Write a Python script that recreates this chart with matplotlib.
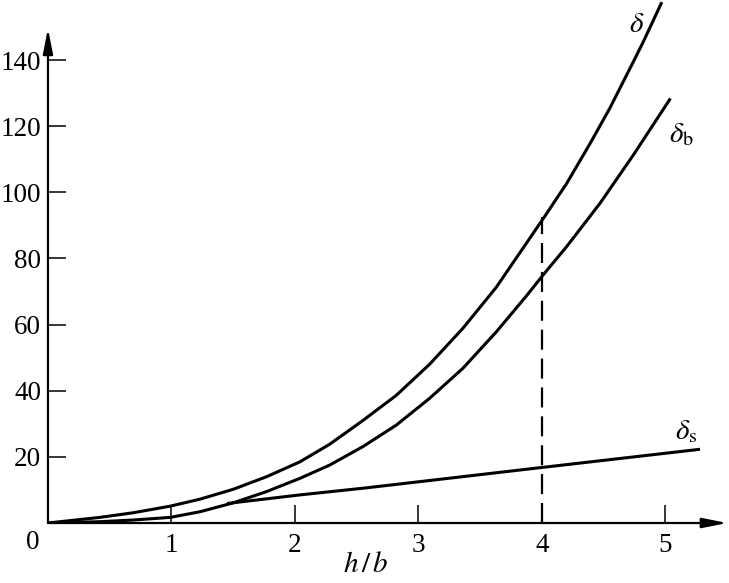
import matplotlib
matplotlib.use("Agg")
import matplotlib.pyplot as plt

plt.rcParams['font.family'] = ['Liberation Serif', 'DejaVu Serif']
plt.rcParams['mathtext.fontset'] = 'stix'

# valeurs
x_delta = [0, 0.42, 0.69, 0.99, 1.23, 1.50, 1.77, 2.04, 2.28, 2.55, 2.82, 3.09,
           3.36, 3.63, 4.02, 4.20, 4.39, 4.55, 4.74, 4.82, 4.97]
y_delta = [0, 1.7, 3.1, 5.1, 7.2, 10.2, 14.0, 18.5, 23.8, 31.0, 38.6, 48.0,
           58.9, 71.3, 92.6, 102.7, 114.8, 125.5, 139.5, 145.5, 157.5]

x_delta_b = [0, 0.42, 0.69, 0.99, 1.23, 1.50, 1.77, 2.04, 2.28, 2.55, 2.82, 3.09,
             3.36, 3.63, 3.87, 4.02, 4.20, 4.47, 4.74, 5.04]
y_delta_b = [0, 0.4, 0.9, 1.7, 3.4, 6.1, 9.5, 13.5, 17.5, 23.1, 29.6, 37.7,
             46.8, 57.8, 68.5, 75.5, 83.6, 96.7, 111.3, 128.4]

x_delta_s = [1.45, 2.04, 2.57, 4.0, 5.28]
y_delta_s = [5.9, 8.5, 10.6, 16.8, 22.3]

x_ref = 4
y_ref = 92.5

x_ticks = [1, 2, 3, 4, 5]
y_ticks = [20, 40, 60, 80, 100, 120, 140]

fig = plt.figure(figsize=(7.29, 5.83), dpi=100)
ax = fig.add_axes([0.0658, 0.1029, 0.9318, 0.8962])

lw = 2.2
ax.plot(x_delta, y_delta, color='black', lw=lw, solid_capstyle='butt', solid_joinstyle='round')
ax.plot(x_delta_b, y_delta_b, color='black', lw=lw, solid_capstyle='butt', solid_joinstyle='round')
ax.plot(x_delta_s, y_delta_s, color='black', lw=lw, solid_capstyle='butt', solid_joinstyle='round')

# ligne pointillée en h/b = 4
ax.plot([x_ref, x_ref], [0, y_ref], color='black', lw=1.6, dashes=(9, 4))

ax.set_xlim(0, 5.5)
ax.set_ylim(0, 158)

# axes avec flèches
for s in ax.spines.values():
    s.set_visible(False)
arrow = dict(arrowstyle='-|>,head_length=0.75,head_width=0.15', lw=1.6,
             color='black', shrinkA=0, shrinkB=0, mutation_scale=20)
ax.annotate('', xy=(5.5, 0), xytext=(0, 0), arrowprops=arrow, annotation_clip=False)
ax.annotate('', xy=(0, 149.5), xytext=(0, 0), arrowprops=arrow, annotation_clip=False)

ax.set_xticks(x_ticks)
ax.set_yticks(y_ticks)
ax.tick_params(direction='in', length=13, width=1.1, labelsize=19.5, color='black')
ax.tick_params(axis='x', pad=7)
ax.tick_params(axis='y', pad=5)

ax.text(-0.12, -5.9, '0', fontsize=19.5, ha='center', va='center')
ax.text(2.57, -12.7, r'$h\,/\,b$', fontsize=21, ha='center', va='center')

# étiquettes des courbes
ax.text(4.77, 150.6, r'$\delta$', fontsize=21, ha='center', va='center')
ax.text(5.03, 117.5, r'$\delta_{\mathrm{b}}$', fontsize=21, ha='left', va='center')
ax.text(5.08, 27.5, r'$\delta_{\mathrm{s}}$', fontsize=21, ha='left', va='center')

plt.savefig('out.png', dpi=100)
